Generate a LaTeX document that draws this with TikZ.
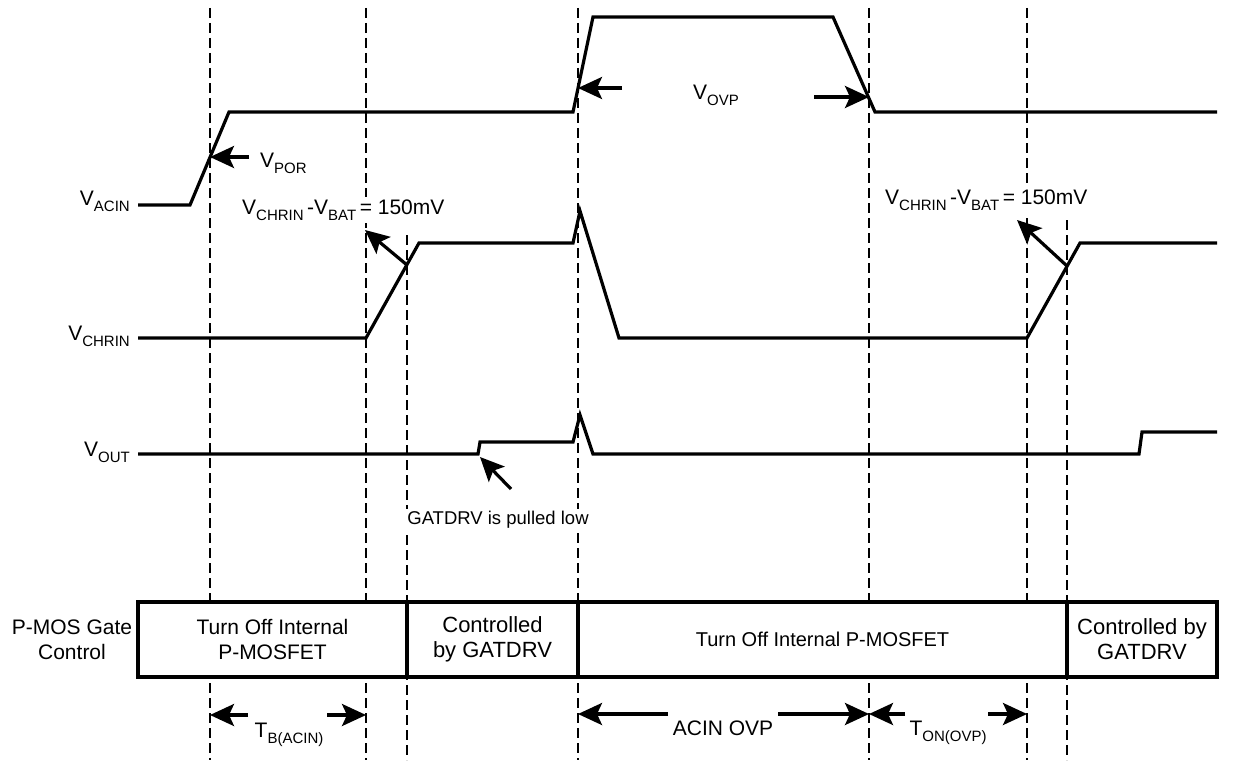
\documentclass[tikz,border=0pt]{standalone}
\usepackage{fontspec}
\setmainfont{Liberation Sans}
\usetikzlibrary{arrows.meta}
\newcommand{\sbs}[1]{\raisebox{-0.32em}{\fontsize{15}{15}\selectfont #1}}
\begin{document}
\begin{tikzpicture}[x=1pt,y=-1pt,
  font=\fontsize{21}{25}\selectfont,
  sig/.style={line width=3.2pt},
  guide/.style={line width=2.4pt, dash pattern=on 10pt off 5pt},
  arr/.style={line width=3.2pt, -{Stealth[length=24pt,width=22pt,inset=5pt]}},
  cell/.style={draw, line width=3.2pt, fill=white, minimum height=75pt, align=center, inner sep=0pt},
  lbl/.style={inner sep=0pt},
  wlbl/.style={inner sep=2pt, fill=white}]
\useasboundingbox (0,0) rectangle (1236,760);

% guide lines
\draw[guide] (210,8) -- (210,760);
\draw[guide] (366,8) -- (366,760);
\draw[guide] (407,235) -- (407,760);
\draw[guide] (578,8) -- (578,760);
\draw[guide] (869,8) -- (869,760);
\draw[guide] (1027,8) -- (1027,760);
\draw[guide] (1067,220) -- (1067,760);

% signals
\draw[sig] (138,205) -- (190,205) -- (229,112) -- (573,112) -- (593,17) -- (833,17) -- (875,112) -- (1217,112);
\draw[sig] (138,338) -- (366,338) -- (419,243) -- (573,243) -- (580,211) -- (619,338) -- (1027,338) -- (1080,243) -- (1217,243);
\draw[sig] (138,454) -- (478,454) -- (480,442) -- (573,442) -- (580,415) -- (593,454) -- (1139,454) -- (1142,432) -- (1217,432);

% signal names
\node[lbl, anchor=base east] (nacin) at (130,205) {V\sbs{ACIN}};
\node[lbl, anchor=base east] (nchrin) at (130,340) {V\sbs{CHRIN}};
\node[lbl, anchor=base east] (nout) at (130,456) {V\sbs{OUT}};

% V_POR
\coordinate (porTip) at (210,157);
\coordinate (porTail) at (249,157);
\draw[arr] (porTail) -- (porTip);
\node[lbl, anchor=base west] (por) at (260,167) {V\sbs{POR}};

% V_OVP
\coordinate (ovpLTip) at (578,88);
\coordinate (ovpLTail) at (622,88);
\coordinate (ovpRTip) at (869,97);
\coordinate (ovpRTail) at (814,97);
\draw[arr] (ovpLTail) -- (ovpLTip);
\draw[arr] (ovpRTail) -- (ovpRTip);
\node[lbl, anchor=base] (ovp) at (716,99) {V\sbs{OVP}};

% VCHRIN - VBAT
\node[wlbl, anchor=base west] (d1) at (240,214) {V\sbs{CHRIN}\,-V\sbs{BAT}\,= 150mV};
\coordinate (d1Tail) at (407,265);
\coordinate (d1Tip) at (365,230);
\draw[arr] (d1Tail) -- (d1Tip);
\node[wlbl, anchor=base west] (d2) at (883,204) {V\sbs{CHRIN}\,-V\sbs{BAT}\,= 150mV};
\coordinate (d2Tail) at (1067,266);
\coordinate (d2Tip) at (1017,220);
\draw[arr] (d2Tail) -- (d2Tip);

% GATDRV
\coordinate (gTail) at (511,489);
\coordinate (gTip) at (480,457);
\draw[arr] (gTail) -- (gTip);
\node[wlbl, anchor=base, font=\fontsize{18.5}{22}\selectfont] (gtxt) at (498,524) {GATDRV is pulled low};

% control row
\node[lbl, align=center] (pmos) at (72,640) {P-MOS Gate\\Control};
\node[cell, minimum width=269pt] (c1) at (272.5,639.5) {Turn Off Internal\\P-MOSFET};
\node[cell, minimum width=171pt, font=\fontsize{22}{25}\selectfont] (c2) at (492.5,639.5) {Controlled\\by GATDRV};
\node[cell, minimum width=489pt, font=\fontsize{20}{24}\selectfont] (c3) at (822.5,639.5) {Turn Off Internal P-MOSFET};
\node[cell, minimum width=150pt, font=\fontsize{22}{25}\selectfont] (c4) at (1142,639.5) {Controlled by\\GATDRV};

% timing arrows
\coordinate (tbL) at (210,715);
\coordinate (tbLt) at (248,715);
\coordinate (tbR) at (366,715);
\coordinate (tbRt) at (327,715);
\draw[arr] (tbLt) -- (tbL);
\draw[arr] (tbRt) -- (tbR);
\node[lbl, anchor=base] (tb) at (289,737) {T\sbs{B(ACIN)}};

\coordinate (aoL) at (578,714);
\coordinate (aoLt) at (668,714);
\coordinate (aoR) at (869,714);
\coordinate (aoRt) at (778,714);
\draw[arr] (aoLt) -- (aoL);
\draw[arr] (aoRt) -- (aoR);
\node[lbl, anchor=base] (ao) at (723,735) {ACIN OVP};

\coordinate (toL) at (869,714);
\coordinate (toLt) at (905,714);
\coordinate (toR) at (1027,714);
\coordinate (toRt) at (988,714);
\draw[arr] (toLt) -- (toL);
\draw[arr] (toRt) -- (toR);
\node[lbl, anchor=base] (ton) at (948,735) {T\sbs{ON(OVP)}};
\end{tikzpicture}
\end{document}
